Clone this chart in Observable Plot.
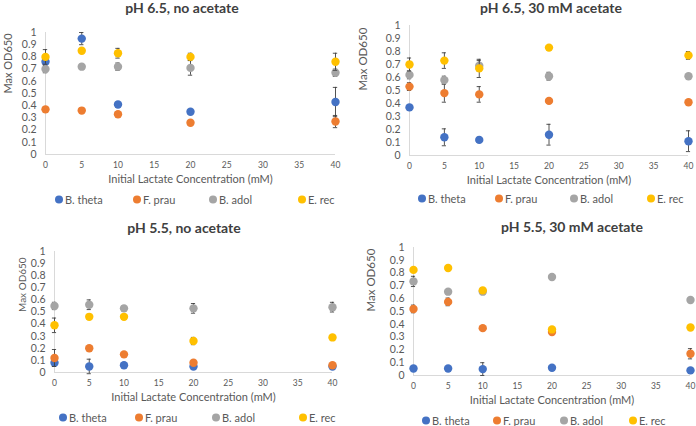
<!DOCTYPE html>
<html><head><meta charset="utf-8">
<script src="https://cdn.jsdelivr.net/npm/d3@7"></script>
<script src="https://cdn.jsdelivr.net/npm/@observablehq/plot@0.6"></script>
<style>
body{margin:0;background:#fff;font-family:Lato,"Open Sans",sans-serif;}
#root{position:relative;width:696px;height:426px;overflow:hidden;background:#fff;}
.panel{position:absolute;width:348px;height:213px;}
.panel svg{position:absolute;left:0;}
.title{position:absolute;transform:translate(-50%,-50%);white-space:nowrap;font-weight:bold;font-size:14px;line-height:1;color:#404040;}
.item{position:absolute;transform:translateY(-50%);white-space:nowrap;font-size:11px;line-height:1;color:#595959;display:flex;align-items:center;}
.sw{width:8px;height:8px;border-radius:50%;display:inline-block;margin-right:2px;}
</style>
</head><body><div id="root"></div>
<script>
// ---- data ----
const lactate = [0, 5, 10, 20, 40];
const seriesNames = ["B. theta", "F. prau", "B. adol", "E. rec"];
const seriesColors = ["#4472C4", "#ED7D31", "#A5A5A5", "#FFC000"];
const xTicks = [0, 5, 10, 15, 20, 25, 30, 35, 40];
const yTicks = [0, 0.1, 0.2, 0.3, 0.4, 0.5, 0.6, 0.7, 0.8, 0.9, 1];
const panelTitles = ["pH 6.5, no acetate", "pH 6.5, 30 mM acetate", "pH 5.5, no acetate", "pH 5.5, 30 mM acetate"];
const xTitle = "Initial Lactate Concentration (mM)";
const yTitle = "Max OD650";

// rows: B. theta, F. prau, B. adol, E. rec
const ph65NoAcetate = [
  [0.76, 0.95, 0.41, 0.35, 0.43],
  [0.37, 0.36, 0.33, 0.26, 0.27],
  [0.70, 0.72, 0.72, 0.71, 0.67],
  [0.80, 0.85, 0.83, 0.80, 0.76]
];
const ph65NoAcetateErr = [
  [0.02, 0.05, 0.02, 0.02, 0.12],
  [0.02, 0.02, 0.02, 0.02, 0.05],
  [0.03, 0.02, 0.03, 0.06, 0.03],
  [0.06, 0.02, 0.04, 0.03, 0.07]
];
const ph65Acetate = [
  [0.37, 0.14, 0.12, 0.16, 0.11],
  [0.53, 0.48, 0.47, 0.42, 0.41],
  [0.62, 0.58, 0.69, 0.61, 0.61],
  [0.70, 0.73, 0.67, 0.83, 0.77]
];
const ph65AcetateErr = [
  [0.02, 0.065, 0.02, 0.08, 0.08],
  [0.03, 0.07, 0.06, 0.01, 0.01],
  [0.03, 0.03, 0.04, 0.03, 0.01],
  [0.05, 0.06, 0.07, 0.01, 0.03]
];
const ph55NoAcetate = [
  [0.08, 0.05, 0.06, 0.05, 0.05],
  [0.12, 0.20, 0.15, 0.08, 0.06],
  [0.55, 0.56, 0.53, 0.53, 0.54],
  [0.39, 0.46, 0.46, 0.26, 0.29]
];
const ph55NoAcetateErr = [
  [0.03, 0.06, 0.02, 0.01, 0.01],
  [0.07, 0.01, 0.01, 0.02, 0.01],
  [0.03, 0.04, 0.02, 0.04, 0.04],
  [0.06, 0.02, 0.02, 0.03, 0.01]
];
const ph55Acetate = [
  [0.055, 0.055, 0.05, 0.06, 0.04],
  [0.52, 0.575, 0.37, 0.34, 0.17],
  [0.735, 0.655, 0.655, 0.77, 0.59],
  [0.825, 0.84, 0.665, 0.36, 0.375]
];
const ph55AcetateErr = [
  [0.01, 0.01, 0.05, 0.01, 0.01],
  [0.03, 0.03, 0.01, 0.01, 0.04],
  [0.04, 0.01, 0.01, 0.01, 0.01],
  [0.01, 0.01, 0.02, 0.01, 0.01]
];
const panelValues = [ph65NoAcetate, ph65Acetate, ph55NoAcetate, ph55Acetate];
const panelErrors = [ph65NoAcetateErr, ph65AcetateErr, ph55NoAcetateErr, ph55AcetateErr];

// ---- layout ----
const layout = [
  {left: 0, top: 0, svgTop: 16, h: 177, mt: 16, mb: 39, ml: 45, mr: 13, tx: 182, ty: 8, ylx: -37, yfs: 11, legY: 199, leg: [59, 137, 213, 302]},
  {left: 348, top: 0, svgTop: 16, h: 177, mt: 9, mb: 38, ml: 61, mr: 8, tx: 203, ty: 8, ylx: -46, yfs: 11.5, legY: 198, leg: [74, 151, 226, 303]},
  {left: 0, top: 213, svgTop: 16, h: 177, mt: 22, mb: 34, ml: 54, mr: 16, tx: 184, ty: 15, ylx: -32, yfs: 10, legY: 204, leg: [63, 139, 216, 303]},
  {left: 348, top: 213, svgTop: 16, h: 177, mt: 18, mb: 31, ml: 65, mr: 6, tx: 224, ty: 14, ylx: -42, yfs: 11.5, legY: 207, leg: [78, 149, 216, 285]}
];

const root = document.getElementById("root");
const fmtY = d => String(+d.toFixed(1));

layout.forEach((L, p) => {
  const rows = [];
  panelValues[p].forEach((vals, s) => {
    vals.forEach((v, j) => rows.push({x: lactate[j], y: v, e: panelErrors[p][s][j], s: seriesNames[s]}));
  });
  const capHalf = 0.3;
  const marks = [
    Plot.ruleY([0], {stroke: "#d9d9d9", strokeWidth: 1}),
    Plot.ruleX([0], {stroke: "#d9d9d9", strokeWidth: 1}),
    Plot.axisX({ticks: xTicks, tickSize: 0, tickPadding: 7, tickFormat: d => d, fontSize: 8.5, fill: "#595959", label: null}),
    Plot.axisY({ticks: yTicks, tickSize: 0, tickPadding: 9, tickFormat: fmtY, fontSize: 10.5, fill: "#595959", label: null}),
    Plot.text([xTitle], {frameAnchor: "bottom", dy: 28, fontSize: 11, fill: "#595959"}),
    Plot.text([yTitle], {frameAnchor: "left", dx: L.ylx, rotate: -90, fontSize: L.yfs, fill: "#595959"})
  ];
  seriesNames.forEach((name, s) => {
    const sub = rows.filter(r => r.s === name);
    marks.push(Plot.ruleX(sub, {x: "x", y1: r => r.y - r.e, y2: r => r.y + r.e, stroke: "#404040", strokeWidth: 0.9}));
    marks.push(Plot.ruleY(sub, {y: r => r.y + r.e, x1: r => r.x - capHalf, x2: r => r.x + capHalf, stroke: "#404040", strokeWidth: 0.9}));
    marks.push(Plot.ruleY(sub, {y: r => r.y - r.e, x1: r => r.x - capHalf, x2: r => r.x + capHalf, stroke: "#404040", strokeWidth: 0.9}));
    marks.push(Plot.dot(sub, {x: "x", y: "y", r: 4.2, fill: seriesColors[s], stroke: "none"}));
  });
  const svg = Plot.plot({
    width: 348, height: L.h,
    marginTop: L.mt, marginBottom: L.mb, marginLeft: L.ml, marginRight: L.mr,
    style: {fontFamily: "Lato, 'Open Sans', sans-serif", background: "transparent", overflow: "visible"},
    x: {domain: [0, 40]},
    y: {domain: [0, 1]},
    marks
  });
  const panel = document.createElement("div");
  panel.className = "panel";
  panel.style.left = L.left + "px";
  panel.style.top = L.top + "px";
  const title = document.createElement("div");
  title.className = "title";
  title.textContent = panelTitles[p];
  title.style.left = L.tx + "px";
  title.style.top = L.ty + "px";
  panel.appendChild(title);
  svg.style.top = L.svgTop + "px";
  panel.appendChild(svg);
  seriesNames.forEach((name, s) => {
    const it = document.createElement("div");
    it.className = "item";
    it.style.left = (L.leg[s] - 4) + "px";
    it.style.top = L.legY + "px";
    const sw = document.createElement("span");
    sw.className = "sw";
    sw.style.background = seriesColors[s];
    it.appendChild(sw);
    it.appendChild(document.createTextNode(name));
    panel.appendChild(it);
  });
  root.appendChild(panel);
});
</script>
</body></html>
